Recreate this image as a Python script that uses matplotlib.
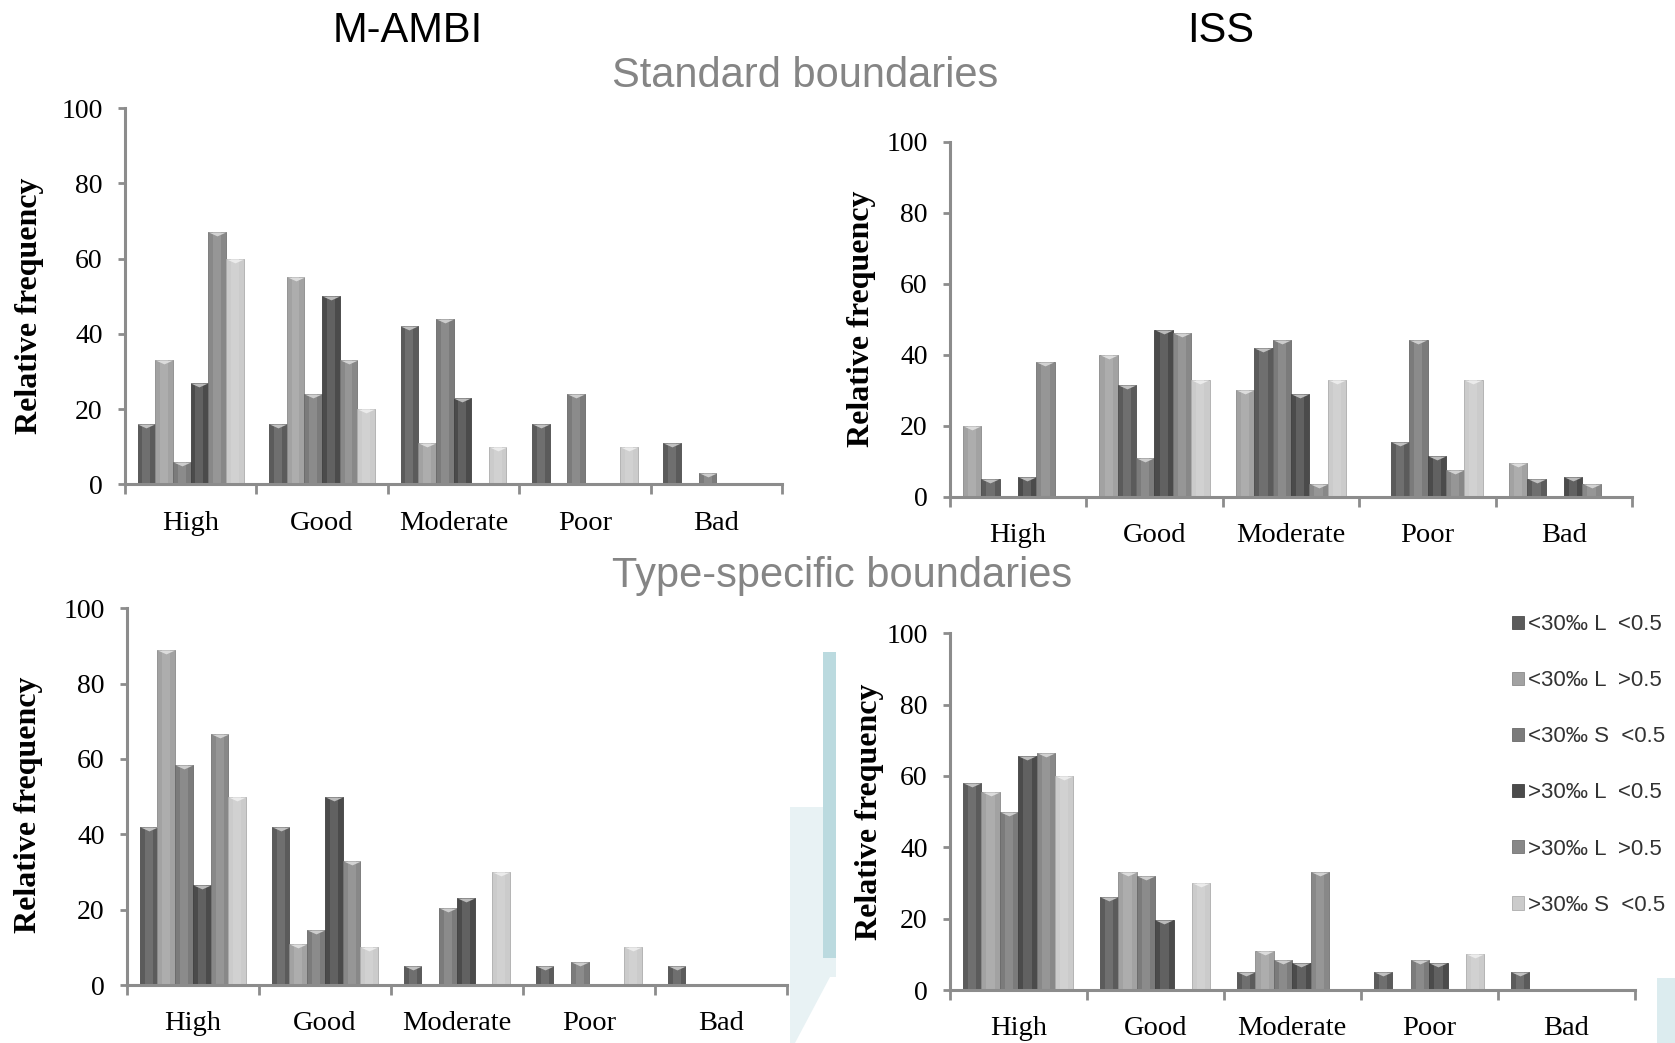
import matplotlib
matplotlib.use("Agg")
import matplotlib.pyplot as plt
import numpy as np
from matplotlib.patches import Patch, Rectangle, Polygon
from matplotlib.path import Path

categories = ['High', 'Good', 'Moderate', 'Poor', 'Bad']
series_labels = ['<30‰ L  <0.5', '<30‰ L  >0.5', '<30‰ S  <0.5',
                 '>30‰ L  <0.5', '>30‰ L  >0.5', '>30‰ S  <0.5']
series_colors = ['#5b5b5b', '#a2a2a2', '#7b7b7b', '#4b4b4b', '#888888', '#cbcbcb']

# rows = series (legend order), columns = categories
mambi_standard = [
    [16, 16, 42, 16, 11],
    [33, 55, 11, 0, 0],
    [6, 24, 44, 24, 3],
    [27, 50, 23, 0, 0],
    [67, 33, 0, 0, 0],
    [60, 20, 10, 10, 0],
]
iss_standard = [
    [5, 31.5, 42, 15.5, 5],
    [20, 40, 30, 0, 9.5],
    [0, 11, 44, 44, 0],
    [5.5, 47, 29, 11.5, 5.5],
    [38, 46, 3.5, 7.5, 3.5],
    [0, 33, 33, 33, 0],
]
mambi_type = [
    [42, 42, 5, 5, 5],
    [89, 11, 0, 0, 0],
    [58.5, 14.5, 20.5, 6, 0],
    [26.5, 50, 23, 0, 0],
    [66.5, 33, 0, 0, 0],
    [50, 10, 30, 10, 0],
]
iss_type = [
    [58, 26, 5, 5, 5],
    [55.5, 33, 11, 0, 0],
    [50, 32, 8.5, 8.5, 0],
    [65.5, 19.5, 7.5, 7.5, 0],
    [66.5, 0, 33, 0, 0],
    [60, 30, 0, 10, 0],
]
# which series sits in each bar slot of a group
slot_order_default = [0, 1, 2, 3, 4, 5]
slot_order_iss_std = [1, 0, 2, 3, 4, 5]

axis_gray = '#8c8c8c'
serif = ['Liberation Serif', 'DejaVu Serif']
sans = ['Liberation Sans', 'DejaVu Sans']


def lighten(c, f):
    rgb = np.array(matplotlib.colors.to_rgb(c))
    return tuple(rgb + (1 - rgb) * f)


def darken(c, f):
    rgb = np.array(matplotlib.colors.to_rgb(c))
    return tuple(rgb * (1 - f))


bevel = Path([(-1, 0), (1, 0), (0, -0.45), (-1, 0)])

fig = plt.figure(figsize=(16.75, 10.43), dpi=100)


def W(px):
    return px / 1675


def H(py):
    return 1 - py / 1043


# slide background decorations
fig.add_artist(Polygon([(W(790), H(807)), (W(836), H(807)), (W(836), H(977)),
                        (W(830), H(977)), (W(795), H(1043)), (W(790), H(1043))],
                       closed=True, transform=fig.transFigure, facecolor='#e8f2f4',
                       edgecolor='none', zorder=0))
fig.add_artist(Rectangle((W(823), H(958)), W(836) - W(823), H(652) - H(958),
                         transform=fig.transFigure, facecolor='#bbdadf',
                         edgecolor='none', zorder=0))
fig.add_artist(Rectangle((W(1657), 0), 1 - W(1657), H(978),
                         transform=fig.transFigure, facecolor='#dcecef',
                         edgecolor='none', zorder=0))


def panel(rect, data, order, label_x, label_y):
    ax = fig.add_axes(rect)
    ax.patch.set_alpha(0)
    x = np.arange(len(categories))
    w = 0.806 / 6
    for slot, si in enumerate(order):
        vals = np.array(data[si], dtype=float)
        pos = x + (slot - 2.5) * w
        col = series_colors[si]
        ax.bar(pos, vals, width=w, color=col, edgecolor=darken(col, 0.15),
               linewidth=0.6, zorder=2)
        # lighter centre strip to mimic the rounded look
        ax.bar(pos, vals, width=w * 0.45, color=lighten(col, 0.12),
               linewidth=0, zorder=2.1)
        keep = vals > 0
        ax.plot(pos[keep], vals[keep], linestyle='none', marker=bevel,
                markersize=12.5, color=lighten(col, 0.62), markeredgewidth=0,
                zorder=3)
    ax.set_xlim(-0.5, len(categories) - 0.5)
    ax.set_ylim(0, 100)
    for s in ['top', 'right']:
        ax.spines[s].set_visible(False)
    for s in ['left', 'bottom']:
        ax.spines[s].set_color(axis_gray)
        ax.spines[s].set_linewidth(2.2)
    ax.set_yticks(np.arange(0, 101, 20))
    ax.tick_params(axis='y', length=5, width=2, color=axis_gray, pad=11,
                   labelsize=20)
    ax.set_xticks(np.arange(-0.5, len(categories), 1))
    ax.set_xticklabels([])
    ax.tick_params(axis='x', which='major', length=7, width=2, color=axis_gray)
    ax.set_xticks(x, minor=True)
    ax.set_xticklabels(categories, minor=True)
    ax.tick_params(axis='x', which='minor', length=0, pad=19, labelsize=20.5)
    for t in ax.get_xticklabels(minor=True) + ax.get_yticklabels():
        t.set_fontfamily(serif)
    ax.set_ylabel('Relative frequency', fontsize=23, fontweight='bold',
                  family=serif)
    ax.yaxis.set_label_coords(label_x, label_y)
    return ax


panel([0.0745, 0.5357, 0.3925, 0.3605], mambi_standard, slot_order_default, -0.123, 0.475)
panel([0.567, 0.5238, 0.4075, 0.3404], iss_standard, slot_order_iss_std, -0.108, 0.5)
panel([0.0758, 0.0556, 0.394, 0.3612], mambi_type, slot_order_default, -0.127, 0.478)
panel([0.567, 0.0508, 0.409, 0.342], iss_type, slot_order_default, -0.096, 0.5)

fig.text(0.2436, 0.970, 'M-AMBI', ha='center', va='center', fontsize=30,
         family=sans, color='black')
fig.text(0.729, 0.970, 'ISS', ha='center', va='center', fontsize=30,
         family=sans, color='black')
fig.text(0.4806, 0.927, 'Standard boundaries', ha='center', va='center',
         fontsize=30, family=sans, color='#858585')
fig.text(0.503, 0.448, 'Type-specific boundaries', ha='center', va='center',
         fontsize=30, family=sans, color='#858585')

handles = [Patch(facecolor=c, edgecolor=darken(c, 0.15), linewidth=0.6)
           for c in series_colors]
leg = fig.legend(handles, series_labels, loc='upper left',
                 bbox_to_anchor=(0.9027, 0.4112), frameon=False,
                 prop={'family': sans, 'size': 16}, handlelength=0.55,
                 handleheight=0.55, handletextpad=0.15, labelspacing=1.58,
                 borderpad=0, borderaxespad=0)
for t in leg.get_texts():
    t.set_color('#333333')

fig.savefig('out.png', dpi=100)
